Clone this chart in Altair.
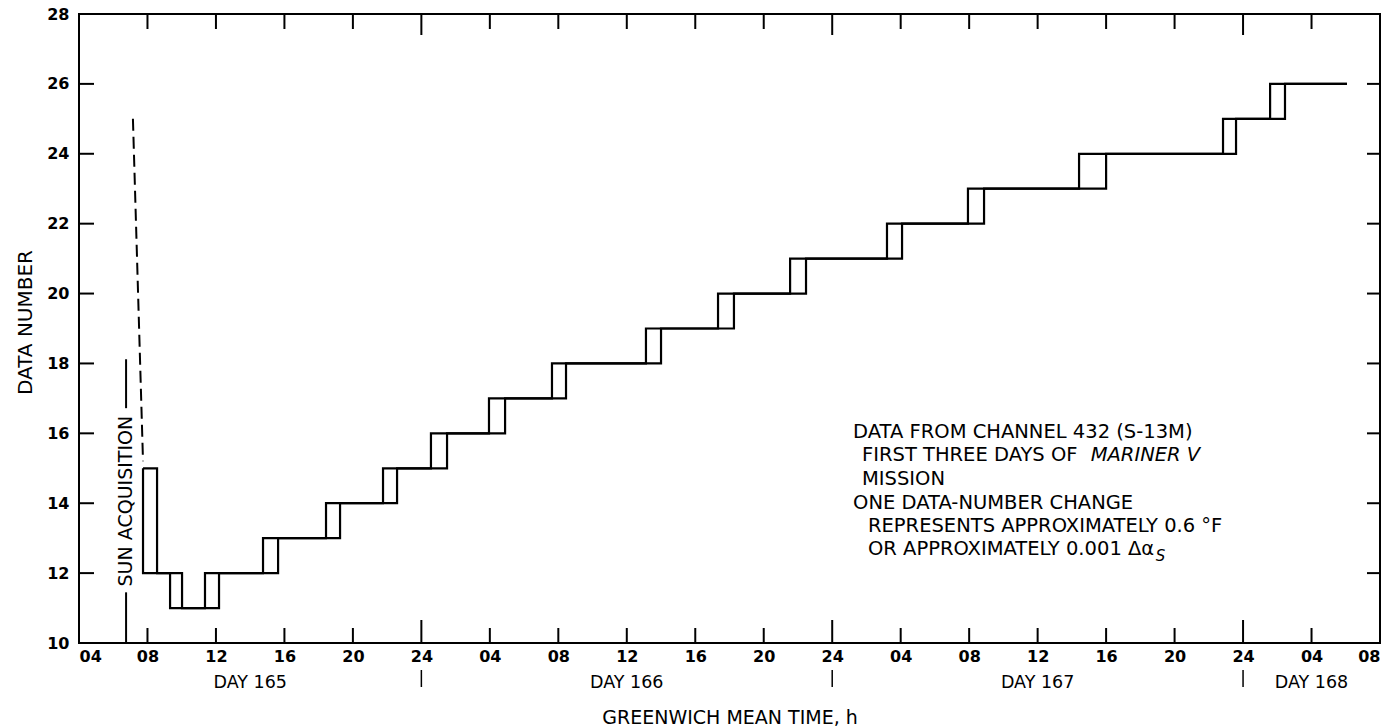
import altair as alt
import pandas as pd

# ---------------- data ----------------
hour_ticks = list(range(4, 81, 4))          # hours since 00h of day 165
day_boundaries = [24, 48, 72]
y_ticks = list(range(10, 29, 2))

start_time = 7.74
start_level = 15
end_time = 78.07
t_early = [7.74, 9.32, 11.36, 14.75, 18.43, 21.76, 24.56, 27.95, 31.63, 37.12,
           41.33, 45.54, 51.20, 55.93, 62.42, 70.83, 73.58]
t_late = [8.56, 10.02, 12.18, 15.63, 19.25, 22.58, 25.50, 28.89, 32.45, 38.00,
          42.26, 46.47, 52.08, 56.87, 64.00, 71.59, 74.45]
levels = [12, 11, 12, 13, 14, 15, 16, 17, 18, 19, 20, 21, 22, 23, 24, 25, 26]

day_names = ["DAY 165", "DAY 166", "DAY 167", "DAY 168"]
day_centers = [14, 36, 60, 76]

sun_time = 6.75
sun_segments_lo = [10.0, 16.72]
sun_segments_hi = [11.45, 18.12]
sun_label_level = 14.06

dash_t = [7.15, 7.74]
dash_v = [25.0, 15.2]

note_lines = ["DATA FROM CHANNEL 432 (S-13M)", "FIRST THREE DAYS OF", "MISSION",
              "ONE DATA-NUMBER CHANGE", "REPRESENTS APPROXIMATELY 0.6 °F",
              "OR APPROXIMATELY 0.001 Δα"]
note_t = [49.22, 49.74, 49.74, 49.22, 50.09, 50.09]
note_v = [16.05, 15.39, 14.69, 14.00, 13.35, 12.68]
italic_text = ["MARINER V"]
italic_t = [63.1]
italic_v = [15.39]
sub_text = ["S"]
sub_t = [66.9]
sub_v = [12.50]

# ---------------- tables ----------------
rows = []
for name, ts in (("early", t_early), ("late", t_late)):
    pts = [(start_time, start_level)] + list(zip(ts, levels)) + [(end_time, levels[-1])]
    for i, (t, v) in enumerate(pts):
        rows.append({"series": name, "t": t, "v": v, "order": i})
steps = pd.DataFrame(rows)

W, H = 1301, 629
FONT = "DejaVu Sans"

xscale = alt.Scale(domain=[4, 80], nice=False, zero=False)
yscale = alt.Scale(domain=[10, 28], nice=False, zero=False)

label_expr = ("(datum.value % 24 == 0) ? '24' : "
              "((datum.value % 24) < 10 ? '0' + (datum.value % 24) : '' + (datum.value % 24))")

x_axis = alt.Axis(values=hour_ticks, labelExpr=label_expr, domain=False, ticks=False,
                  tickSize=0, grid=False, labelFont=FONT, labelFontSize=16,
                  labelFontWeight="bold", labelColor="black", labelPadding=5,
                  labelFlush=True,
                  title="GREENWICH MEAN TIME, h", titleFont=FONT, titleFontSize=19,
                  titleFontWeight="normal", titleColor="black", titlePadding=44)
y_axis = alt.Axis(values=y_ticks, domain=False, ticks=False, tickSize=0, grid=False,
                  labelFont=FONT, labelFontSize=16, labelFontWeight="bold",
                  labelColor="black", labelPadding=10,
                  title="DATA NUMBER", titleFont=FONT, titleFontSize=20,
                  titleFontWeight="normal", titleColor="black", titlePadding=11,
                  titleY=308)


def X(field="t"):
    return alt.X(f"{field}:Q", scale=xscale, axis=x_axis)


def Y(field="v"):
    return alt.Y(f"{field}:Q", scale=yscale, axis=y_axis)


main = alt.Chart(steps).mark_line(interpolate="step-after", color="black",
                                  strokeWidth=2.2).encode(
    x=X(), y=Y(), detail="series:N", order="order:Q",
)

normal_ticks = pd.DataFrame({"t": [h for h in hour_ticks if h not in day_boundaries]})
long_ticks = pd.DataFrame({"t": day_boundaries})
yt = pd.DataFrame({"v": y_ticks})

tick_style = dict(color="black", strokeWidth=2)
layers = [main]
layers.append(alt.Chart(normal_ticks).mark_rule(**tick_style).encode(
    x=X(), y=alt.value(H), y2=alt.value(H - 15)))
layers.append(alt.Chart(long_ticks).mark_rule(**tick_style).encode(
    x=X(), y=alt.value(H), y2=alt.value(H - 23)))
layers.append(alt.Chart(normal_ticks).mark_rule(**tick_style).encode(
    x=X(), y=alt.value(0), y2=alt.value(15)))
layers.append(alt.Chart(long_ticks).mark_rule(**tick_style).encode(
    x=X(), y=alt.value(0), y2=alt.value(21)))
layers.append(alt.Chart(long_ticks).mark_rule(color="black", strokeWidth=1.5).encode(
    x=X(), y=alt.value(656), y2=alt.value(673)))
layers.append(alt.Chart(yt).mark_rule(**tick_style).encode(
    y=Y(), x=alt.value(0), x2=alt.value(15)))
layers.append(alt.Chart(yt).mark_rule(**tick_style).encode(
    y=Y(), x=alt.value(W - 13), x2=alt.value(W)))

days = pd.DataFrame({"t": day_centers, "label": day_names})
layers.append(alt.Chart(days).mark_text(font=FONT, fontSize=17.5, color="black",
                                        baseline="middle", align="center").encode(
    x=X(), y=alt.value(669), text="label:N"))

sun = pd.DataFrame({"t": [sun_time] * 2, "v": sun_segments_lo, "v2": sun_segments_hi})
layers.append(alt.Chart(sun).mark_rule(color="black", strokeWidth=2).encode(
    x=X(), y=Y(), y2="v2:Q"))
sun_lbl = pd.DataFrame({"t": [sun_time], "v": [sun_label_level], "label": ["SUN ACQUISITION"]})
layers.append(alt.Chart(sun_lbl).mark_text(font=FONT, fontSize=19, color="black", angle=270,
                                           align="center", baseline="middle").encode(
    x=X(), y=Y(), text="label:N"))

dash = pd.DataFrame({"t": dash_t, "v": dash_v})
layers.append(alt.Chart(dash).mark_line(color="black", strokeWidth=2,
                                        strokeDash=[12, 6]).encode(x=X(), y=Y()))

notes = pd.DataFrame({"t": note_t, "v": note_v, "label": note_lines})
layers.append(alt.Chart(notes).mark_text(font=FONT, fontSize=19.5, color="black",
                                         align="left", baseline="middle").encode(
    x=X(), y=Y(), text="label:N"))
ital = pd.DataFrame({"t": italic_t, "v": italic_v, "label": italic_text})
layers.append(alt.Chart(ital).mark_text(font=FONT, fontSize=19.5, fontStyle="italic",
                                        color="black", align="left",
                                        baseline="middle").encode(
    x=X(), y=Y(), text="label:N"))
sub = pd.DataFrame({"t": sub_t, "v": sub_v, "label": sub_text})
layers.append(alt.Chart(sub).mark_text(font=FONT, fontSize=15, fontStyle="italic",
                                       color="black", align="left",
                                       baseline="middle").encode(
    x=X(), y=Y(), text="label:N"))

chart = alt.layer(*layers).properties(
    width=W, height=H,
    autosize=alt.AutoSizeParams(type="none"),
    padding={"left": 79, "top": 14, "right": 5, "bottom": 85},
    background="white",
).configure_view(stroke="black", strokeWidth=2)

chart.save("out.html", embed_options={"renderer": "svg", "actions": False})
